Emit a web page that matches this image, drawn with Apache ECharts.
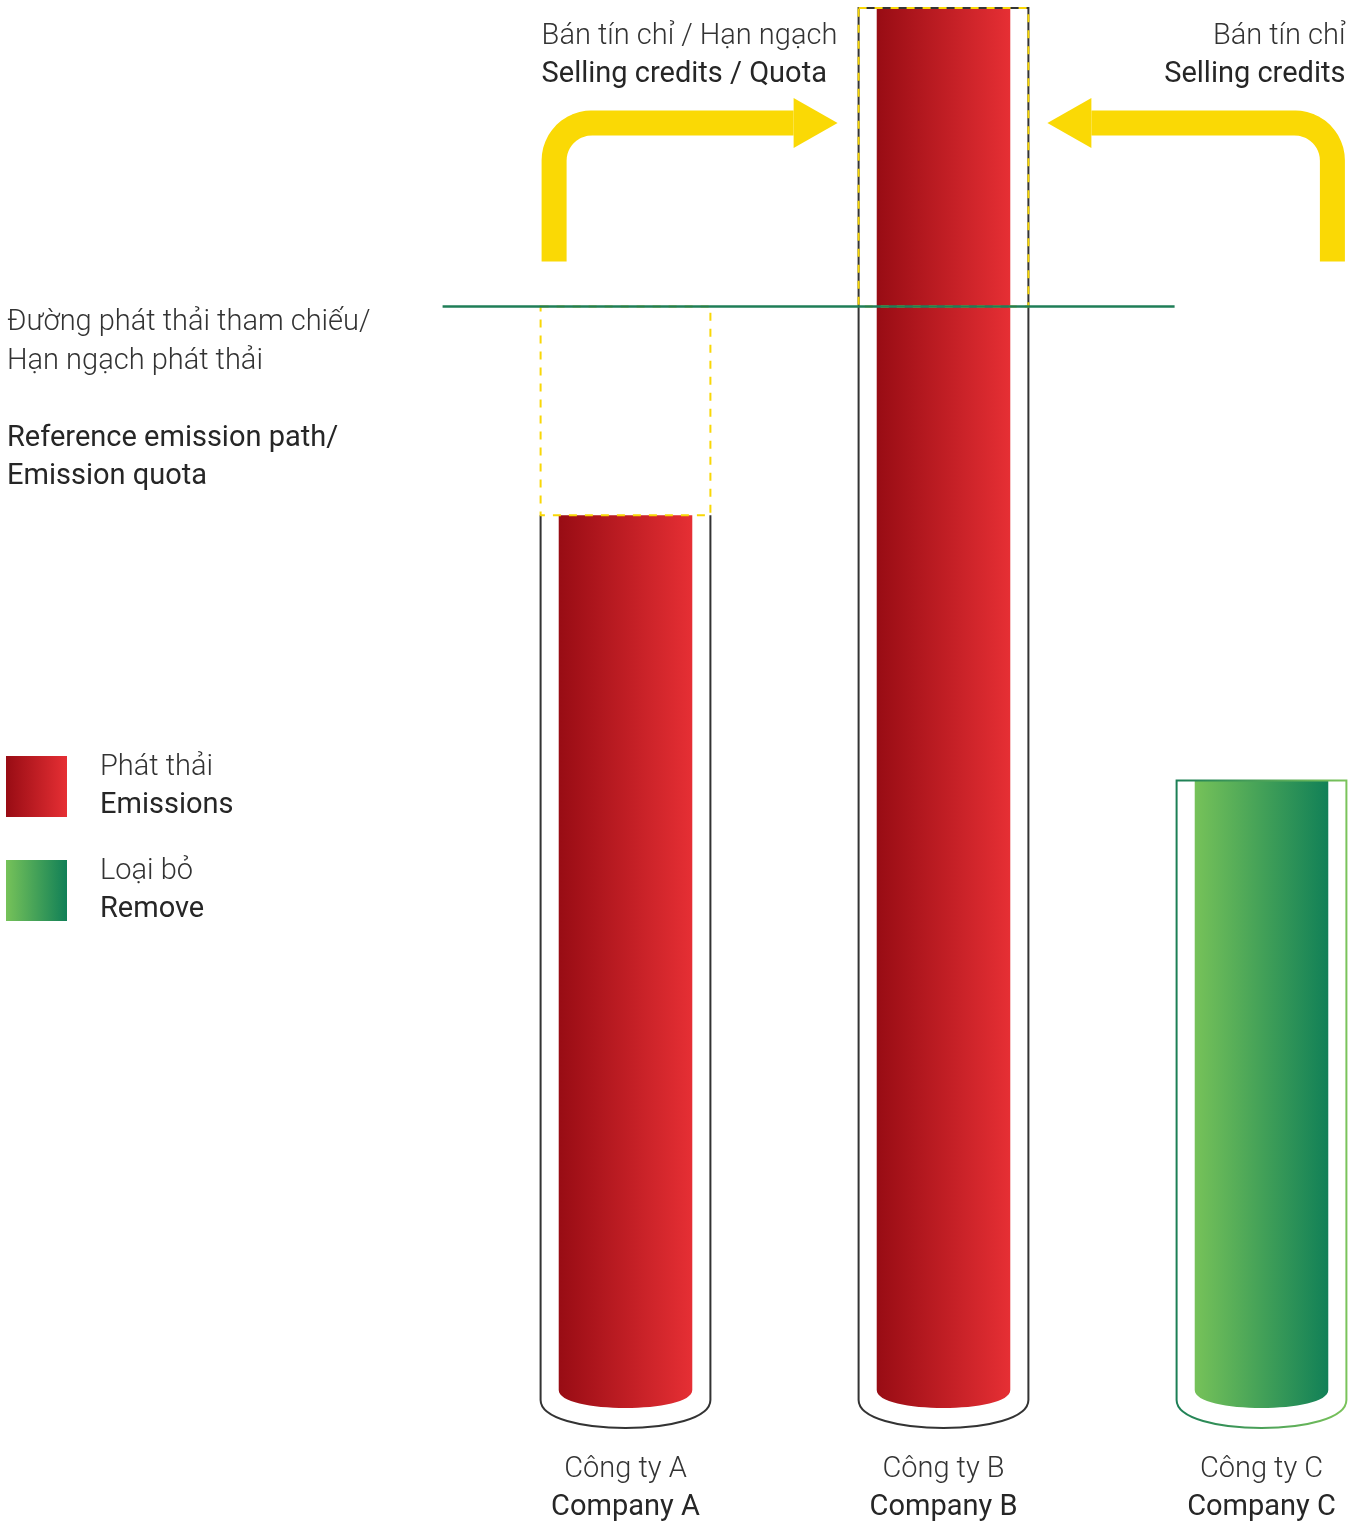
<!DOCTYPE html>
<html>
<head>
<meta charset="utf-8">
<script src="https://cdn.jsdelivr.net/npm/echarts@6/dist/echarts.min.js"></script>
<style>
  html, body { margin: 0; padding: 0; background: #fff; }
  #chart { width: 1358px; height: 1523px; }
</style>
</head>
<body>
<div id="chart"></div>
<script>
// data
const categories = ['Company A', 'Company B', 'Company C']
const categoriesVi = ['Công ty A', 'Công ty B', 'Công ty C']
const emissions = [63.3, 100, null]
const removals = [null, null, 44.1]
const referenceLevel = 78.4
const seriesVi = ['Phát thải', 'Loại bỏ']
const seriesEn = ['Emissions', 'Remove']

const FONT = 'Roboto, "Noto Sans", sans-serif'
const DARK = '#262626'

const chart = echarts.init(document.getElementById('chart'))

const redGrad = () => new echarts.graphic.LinearGradient(0, 0, 1, 0, [
  { offset: 0, color: '#980c14' }, { offset: 1, color: '#e62f34' }
])
const greenGrad = () => new echarts.graphic.LinearGradient(0, 0, 1, 0, [
  { offset: 0, color: '#76c259' }, { offset: 1, color: '#118057' }
])
const greenStroke = () => new echarts.graphic.LinearGradient(0, 0, 1, 0, [
  { offset: 0, color: '#1b7e56' }, { offset: 1, color: '#7cc45b' }
])

function tube(kind) {
  return function (params, api) {
    const v = api.value(1)
    const top = api.coord([api.value(0), v])
    const base = api.coord([api.value(0), 0])
    const ref = api.coord([api.value(0), referenceLevel])
    const band = api.size([1, 0])[0]
    const half = band * 0.21
    const pad = band * 0.057
    const cx = top[0]
    const ty = top[1]
    const by = base[1]
    const xl = cx - half, xr = cx + half
    const ol = xl - pad, or = xr + pad
    const k = 4 / 3

    const fillPath = `M${xl} ${ty} L${xr} ${ty} L${xr} ${by} C${xr} ${by + 18 * k} ${xl} ${by + 18 * k} ${xl} ${by} Z`
    const sb = by + 10
    const closed = kind === 'remove' || v >= referenceLevel
    const outline = closed
      ? `M${ol} ${ty} L${or} ${ty} L${or} ${sb} C${or} ${sb + 28 * k} ${ol} ${sb + 28 * k} ${ol} ${sb} Z`
      : `M${ol} ${ty} L${ol} ${sb} C${ol} ${sb + 28 * k} ${or} ${sb + 28 * k} ${or} ${sb} L${or} ${ty}`

    const children = [
      { type: 'path', shape: { pathData: fillPath }, style: { fill: kind === 'remove' ? greenGrad() : redGrad() } },
      { type: 'path', shape: { pathData: outline }, style: { fill: null, stroke: kind === 'remove' ? greenStroke() : '#333', lineWidth: 2 } }
    ]
    if (kind === 'emit') {
      // sold / bought quota between the bar top and the reference path
      const y0 = Math.min(ty, ref[1]), y1 = Math.max(ty, ref[1])
      children.push({
        type: 'rect',
        shape: { x: ol, y: y0, width: or - ol, height: y1 - y0 },
        style: { fill: null, stroke: '#f9d706', lineWidth: 2, lineDash: [8, 8] }
      })
    }
    return { type: 'group', children }
  }
}

chart.setOption({
  animation: false,
  grid: { left: 466.5, width: 954, top: 8, bottom: 133, outerBoundsMode: 'none' },
  legend: {
    orient: 'vertical',
    left: 6,
    top: 753,
    padding: 0,
    itemWidth: 61,
    itemHeight: 61,
    itemGap: 37,
    icon: 'rect',
    data: seriesVi,
    formatter: name => `{vi|${name}}\n{en|${seriesEn[seriesVi.indexOf(name)]}}`,
    textStyle: {
      padding: [0, 0, 0, 28],
      rich: {
        vi: { fontFamily: FONT, fontWeight: 300, fontSize: 29, lineHeight: 38, color: '#333' },
        en: { fontFamily: FONT, fontWeight: 400, fontSize: 29, lineHeight: 38, color: DARK }
      }
    }
  },
  xAxis: {
    type: 'category',
    data: categories,
    axisLine: { show: false },
    axisTick: { show: false },
    axisLabel: {
      margin: 61,
      formatter: (v, i) => `{vi|${categoriesVi[i]}}\n{en|${v}}`,
      rich: {
        vi: { fontFamily: FONT, fontWeight: 300, fontSize: 29, lineHeight: 38, color: '#333' },
        en: { fontFamily: FONT, fontWeight: 400, fontSize: 29, lineHeight: 38, color: DARK }
      }
    }
  },
  yAxis: { type: 'value', min: 0, max: 100, show: false, splitLine: { show: false } },
  series: [
    {
      name: seriesVi[0],
      type: 'custom',
      itemStyle: { color: redGrad() },
      renderItem: tube('emit'),
      data: emissions.map((v, i) => [i, v]).filter(d => d[1] != null)
    },
    {
      name: seriesVi[1],
      type: 'custom',
      itemStyle: { color: greenGrad() },
      renderItem: tube('remove'),
      data: removals.map((v, i) => [i, v]).filter(d => d[1] != null)
    }
  ]
})

// annotations placed from the chart's own scales
const px = i => chart.convertToPixel({ xAxisIndex: 0 }, categories[i])
const band = px(1) - px(0)
const half = band * 0.21 + band * 0.057
const refY = chart.convertToPixel({ yAxisIndex: 0 }, referenceLevel)
const outerL = i => px(i) - half
const outerR = i => px(i) + half

function arrow(stemX, tipX, dir) {
  // dir: 1 = goes right, -1 = goes left
  const yBand = refY - 183.5
  const yStem = refY - 45
  const r = 37.5
  const pts = [[stemX, yStem], [stemX, yBand + r]]
  const cx = stemX + dir * r, cy = yBand + r
  for (let a = 1; a <= 12; a++) {
    const t = Math.PI - (a / 12) * (Math.PI / 2)
    pts.push([cx + dir * r * Math.cos(t), cy - r * Math.sin(t)])
  }
  const headBase = tipX - dir * 44
  pts.push([headBase, yBand])
  return [
    { type: 'polyline', z: 5, shape: { points: pts }, style: { stroke: '#fad905', lineWidth: 25, fill: null, lineCap: 'butt', lineJoin: 'round' } },
    { type: 'polygon', z: 5, shape: { points: [[headBase, yBand - 25], [tipX, yBand], [headBase, yBand + 25]] }, style: { fill: '#fad905' } }
  ]
}

const leftStem = outerL(0) + 13.5
const rightStem = outerR(2) - 14

chart.setOption({
  graphic: [
    { type: 'line', z: 10, shape: { x1: outerL(0) - 98, y1: refY, x2: outerL(2) - 2, y2: refY }, style: { stroke: '#1f7e57', lineWidth: 2.5 } },
    ...arrow(leftStem, outerL(1) - 21, 1),
    ...arrow(rightStem, outerR(1) + 19, -1),
    {
      type: 'text', left: outerL(0) + 1, top: 22,
      style: {
        text: '{vi|Bán tín chỉ / Hạn ngạch}\n{en|Selling credits / Quota}',
        rich: {
          vi: { fontFamily: FONT, fontWeight: 300, fontSize: 29, lineHeight: 38, fill: '#333' },
          en: { fontFamily: FONT, fontWeight: 400, fontSize: 29, lineHeight: 38, fill: DARK }
        }
      }
    },
    {
      type: 'text', right: 1358 - outerR(2) + 1, top: 22,
      style: {
        text: '{vi|Bán tín chỉ}\n{en|Selling credits}', align: 'right',
        rich: {
          vi: { fontFamily: FONT, fontWeight: 300, fontSize: 29, lineHeight: 38, fill: '#333', align: 'right' },
          en: { fontFamily: FONT, fontWeight: 400, fontSize: 29, lineHeight: 38, fill: DARK, align: 'right' }
        }
      }
    },
    {
      type: 'text', left: 7, top: refY + 2,
      style: {
        text: '{vi|Đường phát thải tham chiếu/}\n{vi|Hạn ngạch phát thải}\n{sp| }\n{en|Reference emission path/}\n{en|Emission quota}',
        rich: {
          vi: { fontFamily: FONT, fontWeight: 300, fontSize: 29, lineHeight: 38.5, fill: '#333' },
          sp: { fontSize: 29, lineHeight: 38.5 },
          en: { fontFamily: FONT, fontWeight: 400, fontSize: 29, lineHeight: 38.5, fill: DARK }
        }
      }
    }
  ]
})
</script>
</body>
</html>
